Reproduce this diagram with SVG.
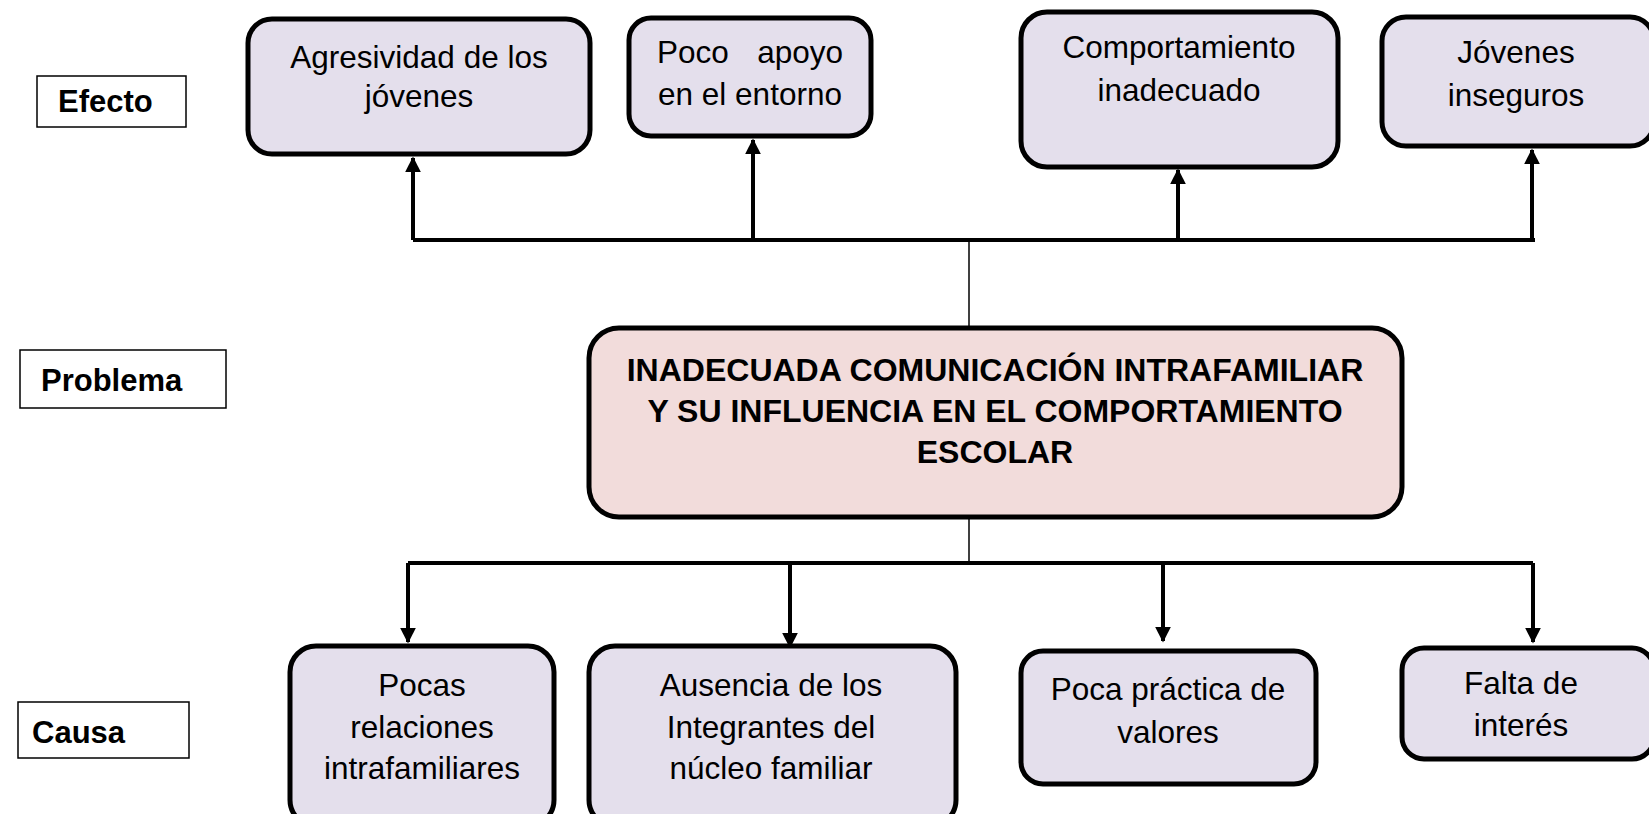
<svg xmlns="http://www.w3.org/2000/svg" width="1649" height="814" viewBox="0 0 1649 814">
<defs>
<style>
.bg{fill:#ffffff}
.node{fill:#E4DFEC;stroke:#000;stroke-width:5}
.prob{fill:#F2DCDB;stroke:#000;stroke-width:5}
.lab{fill:#fff;stroke:#000;stroke-width:1.5}
.t{font-family:"Liberation Sans",Arial,sans-serif;font-size:31.5px;fill:#000;text-anchor:middle}
.ts{text-anchor:start}
.te{text-anchor:end}
.b{font-family:"Liberation Sans",Arial,sans-serif;font-size:31px;font-weight:bold;fill:#000}
.pt{font-family:"Liberation Sans",Arial,sans-serif;font-size:32px;font-weight:bold;fill:#000;text-anchor:middle}
.thick{stroke:#000;stroke-width:4;fill:none}
.thin{stroke:#000;stroke-width:1.5;fill:none}
</style>
<marker id="ah" viewBox="0 0 10 10" refX="9" refY="5" markerWidth="4" markerHeight="4" orient="auto" markerUnits="strokeWidth">
<path d="M0,0 L10,5 L0,10 z" fill="#000"/>
</marker>
</defs>
<rect class="bg" x="0" y="0" width="1649" height="814"/>

<g id="label-efecto"><rect class="lab" x="37" y="76" width="149" height="51"/><text class="b" x="58" y="112">Efecto</text></g>
<g id="label-problema"><rect class="lab" x="20" y="350" width="206" height="58"/><text class="b" x="41" y="391">Problema</text></g>
<g id="label-causa"><rect class="lab" x="18" y="702" width="171" height="56"/><text class="b" x="32" y="743">Causa</text></g>

<g id="connectors">
<path class="thick" d="M413,240 H1535"/>
<path class="thick" d="M413,240 V158" marker-end="url(#ah)"/>
<path class="thick" d="M753,240 V140" marker-end="url(#ah)"/>
<path class="thick" d="M1178,240 V170" marker-end="url(#ah)"/>
<path class="thick" d="M1532,240 V150" marker-end="url(#ah)"/>
<path class="thin" d="M969,240 V327"/>
<path class="thin" d="M969,517 V563"/>
<path class="thick" d="M408,563 H1533"/>
<path class="thick" d="M408,563 V642" marker-end="url(#ah)"/>
<path class="thick" d="M790,563 V647" marker-end="url(#ah)"/>
<path class="thick" d="M1163,563 V641" marker-end="url(#ah)"/>
<path class="thick" d="M1533,563 V642" marker-end="url(#ah)"/>
</g>

<g id="n-agresividad"><rect class="node" x="248" y="19" width="342" height="135" rx="24"/><text class="t" x="419" y="68">Agresividad de los</text><text class="t" x="419" y="107">jóvenes</text></g>
<g id="n-poco-apoyo"><rect class="node" x="629" y="18" width="242" height="118" rx="22"/><text class="t ts" x="657" y="63">Poco</text><text class="t te" x="843" y="63">apoyo</text><text class="t" x="750" y="105">en el entorno</text></g>
<g id="n-comportamiento"><rect class="node" x="1021" y="12" width="317" height="155" rx="26"/><text class="t" x="1179" y="58">Comportamiento</text><text class="t" x="1179" y="101">inadecuado</text></g>
<g id="n-jovenes"><rect class="node" x="1382" y="17" width="272" height="129" rx="24"/><text class="t" x="1516" y="63">Jóvenes</text><text class="t" x="1516" y="106">inseguros</text></g>

<g id="n-problema"><rect class="prob" x="589" y="328" width="813" height="189" rx="30"/>
<text class="pt" x="995" y="381">INADECUADA COMUNICACIÓN INTRAFAMILIAR</text>
<text class="pt" x="995" y="422">Y SU INFLUENCIA EN EL COMPORTAMIENTO</text>
<text class="pt" x="995" y="463">ESCOLAR</text></g>

<g id="n-pocas"><rect class="node" x="290" y="646" width="264" height="180" rx="26"/><text class="t" x="422" y="696">Pocas</text><text class="t" x="422" y="738">relaciones</text><text class="t" x="422" y="779">intrafamiliares</text></g>
<g id="n-ausencia"><rect class="node" x="589" y="646" width="367" height="180" rx="26"/><text class="t" x="771" y="696">Ausencia de los</text><text class="t" x="771" y="738">Integrantes del</text><text class="t" x="771" y="779">núcleo familiar</text></g>
<g id="n-poca-practica"><rect class="node" x="1021" y="651" width="295" height="133" rx="22"/><text class="t" x="1168" y="700">Poca práctica de</text><text class="t" x="1168" y="743">valores</text></g>
<g id="n-falta"><rect class="node" x="1402" y="648" width="252" height="111" rx="22"/><text class="t" x="1521" y="694">Falta de</text><text class="t" x="1521" y="736">interés</text></g>
</svg>
